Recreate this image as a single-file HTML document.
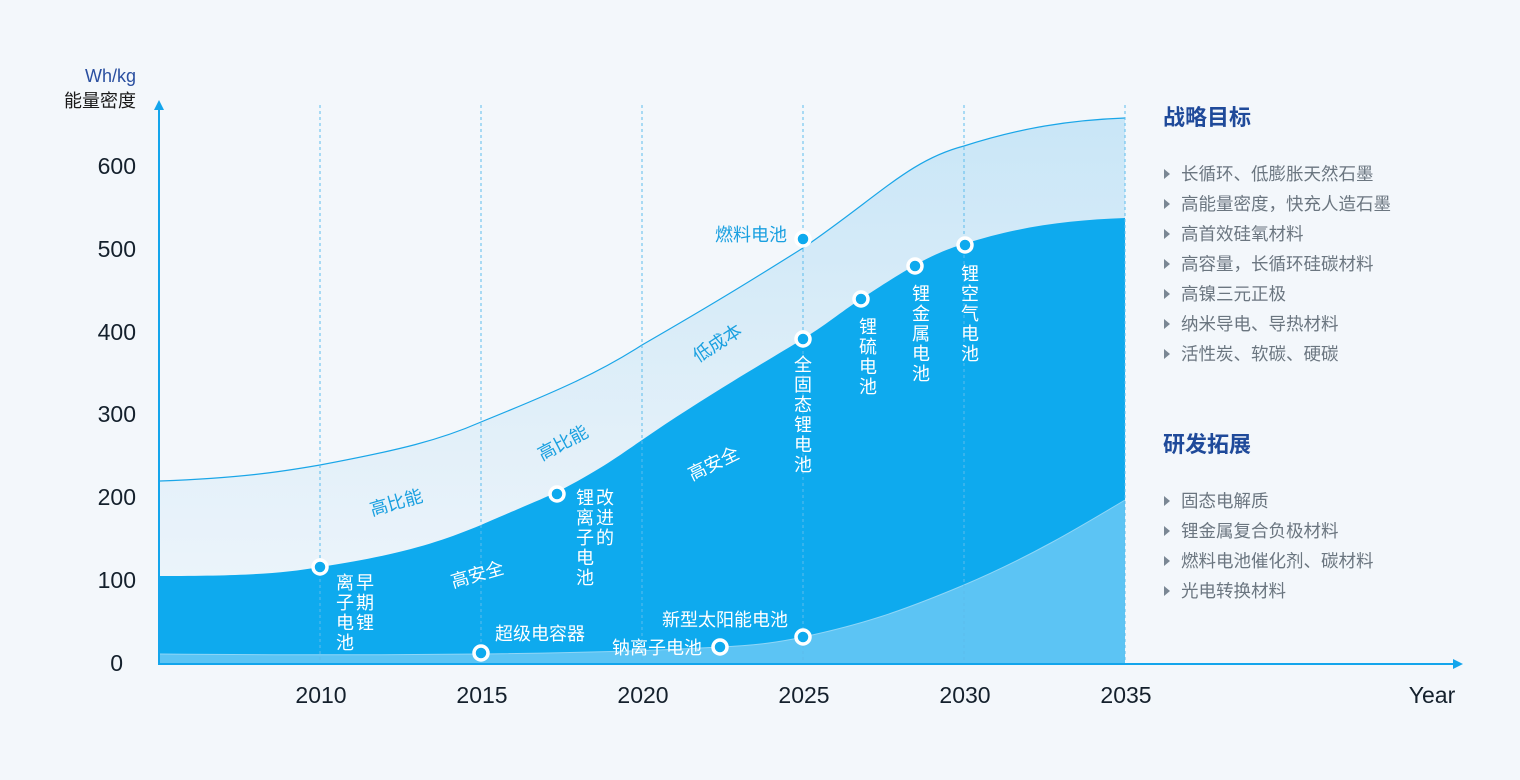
<!DOCTYPE html>
<html><head><meta charset="utf-8"><style>
html,body{margin:0;padding:0;background:#f3f7fb;}
svg{display:block;font-family:"Liberation Sans","Noto Sans CJK SC",sans-serif;}
</style></head><body>
<svg width="1520" height="780" viewBox="0 0 1520 780" xmlns="http://www.w3.org/2000/svg">
<defs>
<linearGradient id="g1" x1="0" y1="0" x2="0" y2="1">
<stop offset="0" stop-color="#c9e6f7"/><stop offset="0.6" stop-color="#e3f0f9"/><stop offset="1" stop-color="#f0f6fb"/>
</linearGradient>
</defs>
<rect width="1520" height="780" fill="#f3f7fb"/>
<path d="M160,481 C240,478 280,472 320,465 C400,450 440,440 481,422 C560,390 600,372 642,345 C720,300 760,275 803,248 C880,195 910,160 964,146 C1020,128 1070,120 1125,118 L1125,664 L160,664 Z" fill="url(#g1)"/>
<path d="M160,481 C240,478 280,472 320,465 C400,450 440,440 481,422 C560,390 600,372 642,345 C720,300 760,275 803,248 C880,195 910,160 964,146 C1020,128 1070,120 1125,118" fill="none" stroke="#1aa6e8" stroke-width="1.2"/>
<path d="M160,576 C240,576 280,574 320,567 C400,555 440,542 481,525 C520,508 540,500 557,492 C600,470 620,455 642,440 C700,400 760,365 803,339 C830,322 845,309 861,299 C885,283 900,274 915,265 C935,254 950,248 964,244 C1020,226 1070,220 1125,218 L1125,664 L160,664 Z" fill="#0eaaee"/>
<path d="M160,654 C400,656 600,654 720,647 C760,645 780,642 803,637 C860,625 900,612 964,585 C1030,557 1080,527 1125,500 L1125,664 L160,664 Z" fill="#5cc4f4"/>
<path d="M160,654 C400,656 600,654 720,647 C760,645 780,642 803,637 C860,625 900,612 964,585 C1030,557 1080,527 1125,500" fill="none" stroke="#8fd6f7" stroke-width="1"/>
<g stroke="#5cbcec" stroke-width="1" stroke-dasharray="3,3">
<line x1="320" y1="105" x2="320" y2="664"/><line x1="481" y1="105" x2="481" y2="664"/>
<line x1="642" y1="105" x2="642" y2="664"/><line x1="803" y1="105" x2="803" y2="664"/>
<line x1="964" y1="105" x2="964" y2="664"/><line x1="1125" y1="105" x2="1125" y2="664"/>
</g>
<line x1="159" y1="108" x2="159" y2="665" stroke="#13a5ec" stroke-width="2"/>
<path d="M154,110 L159,100 L164,110 Z" fill="#13a5ec"/>
<line x1="158" y1="664" x2="1455" y2="664" stroke="#13a5ec" stroke-width="2"/>
<path d="M1453,659 L1463,664 L1453,669 Z" fill="#13a5ec"/>
<text x="136" y="82" font-size="18" fill="#2a4fa0" text-anchor="end">Wh/kg</text>
<text x="136" y="107" font-size="18" fill="#1a1a1a" text-anchor="end">能量密度</text>
<g font-size="23" fill="#14202c" text-anchor="end">
<text x="136" y="174">600</text><text x="136" y="257">500</text><text x="136" y="340">400</text>
<text x="136" y="422">300</text><text x="136" y="505">200</text><text x="136" y="588">100</text><text x="123" y="671">0</text>
</g>
<g font-size="23" fill="#14202c" text-anchor="middle">
<text x="321" y="703">2010</text><text x="482" y="703">2015</text><text x="643" y="703">2020</text>
<text x="804" y="703">2025</text><text x="965" y="703">2030</text><text x="1126" y="703">2035</text>
<text x="1432" y="703">Year</text>
</g>
<g fill="#0eaaee" stroke="#fff" stroke-width="3.5">
<circle cx="320" cy="567" r="7"/><circle cx="557" cy="494" r="7"/><circle cx="803" cy="339" r="7"/>
<circle cx="861" cy="299" r="7"/><circle cx="915" cy="266" r="7"/><circle cx="965" cy="245" r="7"/>
<circle cx="803" cy="239" r="7"/><circle cx="481" cy="653" r="7"/><circle cx="720" cy="647" r="7"/><circle cx="803" cy="637" r="7"/>
</g>
<g font-size="18" fill="#1aa0e0">
<text x="372" y="516" transform="rotate(-16 372 516)">高比能</text>
<text x="542" y="461" transform="rotate(-28 542 461)">高比能</text>
<text x="698" y="363" transform="rotate(-33 698 363)">低成本</text>
<text x="715" y="241">燃料电池</text>
</g>
<g font-size="18" fill="#fff">
<text x="453" y="588" transform="rotate(-16 453 588)">高安全</text>
<text x="692" y="481" transform="rotate(-26 692 481)">高安全</text>
<text x="495" y="640">超级电容器</text>
<text x="612" y="654">钠离子电池</text>
<text x="662" y="626">新型太阳能电池</text>
</g>
<g font-size="18" fill="#fff" text-anchor="middle">
<text x="365" y="589">早</text><text x="365" y="609">期</text><text x="365" y="629">锂</text>
<text x="345" y="589">离</text><text x="345" y="609">子</text><text x="345" y="629">电</text><text x="345" y="649">池</text>
<text x="605" y="504">改</text><text x="605" y="524">进</text><text x="605" y="544">的</text>
<text x="585" y="504">锂</text><text x="585" y="524">离</text><text x="585" y="544">子</text><text x="585" y="564">电</text><text x="585" y="584">池</text>
<text x="803" y="371">全</text><text x="803" y="391">固</text><text x="803" y="411">态</text><text x="803" y="431">锂</text><text x="803" y="451">电</text><text x="803" y="471">池</text>
<text x="868" y="333">锂</text><text x="868" y="353">硫</text><text x="868" y="373">电</text><text x="868" y="393">池</text>
<text x="921" y="300">锂</text><text x="921" y="320">金</text><text x="921" y="340">属</text><text x="921" y="360">电</text><text x="921" y="380">池</text>
<text x="970" y="280">锂</text><text x="970" y="300">空</text><text x="970" y="320">气</text><text x="970" y="340">电</text><text x="970" y="360">池</text>
</g>
<text x="1163" y="125" font-size="22" font-weight="bold" fill="#1f4a9a">战略目标</text>
<text x="1163" y="452" font-size="22" font-weight="bold" fill="#1f4a9a">研发拓展</text>
<g fill="#7a8794">
<path d="M1164,169 L1170,174 L1164,179Z"/><path d="M1164,199 L1170,204 L1164,209Z"/><path d="M1164,229 L1170,234 L1164,239Z"/>
<path d="M1164,259 L1170,264 L1164,269Z"/><path d="M1164,289 L1170,294 L1164,299Z"/><path d="M1164,319 L1170,324 L1164,329Z"/>
<path d="M1164,349 L1170,354 L1164,359Z"/>
<path d="M1164,496 L1170,501 L1164,506Z"/><path d="M1164,526 L1170,531 L1164,536Z"/><path d="M1164,556 L1170,561 L1164,566Z"/><path d="M1164,586 L1170,591 L1164,596Z"/>
</g>
<g font-size="17.5" fill="#6b7680">
<text x="1181" y="180">长循环、低膨胀天然石墨</text>
<text x="1181" y="210">高能量密度，快充人造石墨</text>
<text x="1181" y="240">高首效硅氧材料</text>
<text x="1181" y="270">高容量，长循环硅碳材料</text>
<text x="1181" y="300">高镍三元正极</text>
<text x="1181" y="330">纳米导电、导热材料</text>
<text x="1181" y="360">活性炭、软碳、硬碳</text>
<text x="1181" y="507">固态电解质</text>
<text x="1181" y="537">锂金属复合负极材料</text>
<text x="1181" y="567">燃料电池催化剂、碳材料</text>
<text x="1181" y="597">光电转换材料</text>
</g>
</svg>
</body></html>
